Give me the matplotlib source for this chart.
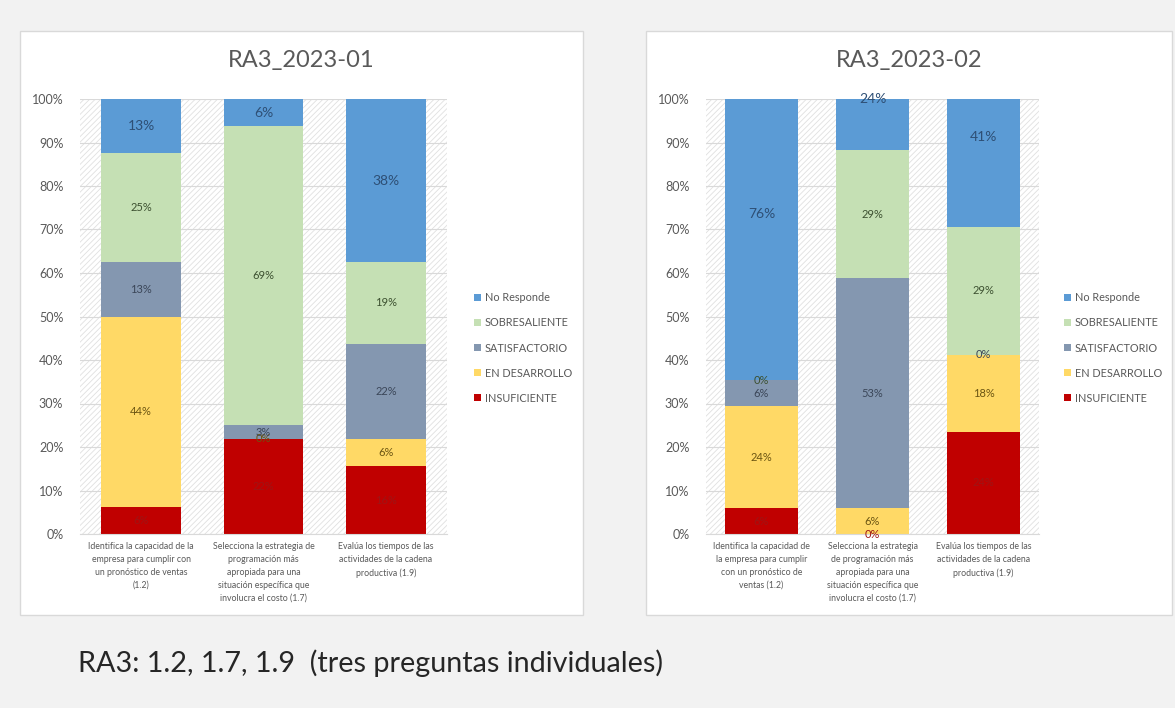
import matplotlib
matplotlib.use("Agg")
import matplotlib.pyplot as plt
from matplotlib.patches import Rectangle, Patch
import numpy as np

plt.rcParams['font.family'] = ['Lato', 'DejaVu Sans']
plt.rcParams['hatch.linewidth'] = 0.6

series = ["INSUFICIENTE", "EN DESARROLLO", "SATISFACTORIO", "SOBRESALIENTE", "No Responde"]
colors = ["#c00000", "#ffd966", "#8497b0", "#c5e0b4", "#5b9bd5"]
label_colors = ["#9e1515", "#6b5512", "#3b4658", "#3c5030", "#2e4f75"]
label_sizes = [8, 8, 8, 8, 10]

titles = ["RA3_2023-01", "RA3_2023-02"]

cats_1 = ["Identifica la capacidad de la\nempresa para cumplir con\nun pronóstico de ventas\n(1.2)",
          "Selecciona la estrategia de\nprogramación más\napropiada para una\nsituación específica que\ninvolucra el costo (1.7)",
          "Evalúa los tiempos de las\nactividades de la cadena\nproductiva (1.9)"]
cats_2 = ["Identifica la capacidad de\nla empresa para cumplir\ncon un pronóstico de\nventas (1.2)",
          "Selecciona la estrategia\nde programación más\napropiada para una\nsituación específica que\ninvolucra el costo (1.7)",
          "Evalúa los tiempos de las\nactividades de la cadena\nproductiva (1.9)"]

# percentages per series (order: INSUF, EN DES, SATISF, SOBRE, NR)
insuf_1 = [6.25, 21.875, 15.625]
desarrollo_1 = [43.75, 0.0, 6.25]
satisf_1 = [12.5, 3.125, 21.875]
sobre_1 = [25.0, 68.75, 18.75]
noresp_1 = [12.5, 6.25, 37.5]

insuf_2 = [5.88, 0.0, 23.53]
desarrollo_2 = [23.53, 5.88, 17.65]
satisf_2 = [5.88, 52.94, 0.0]
sobre_2 = [0.0, 29.41, 29.41]
noresp_2 = [76.47, 23.53, 41.18]

data_1 = [insuf_1, desarrollo_1, satisf_1, sobre_1, noresp_1]
data_2 = [insuf_2, desarrollo_2, satisf_2, sobre_2, noresp_2]

W, H = 1175, 708
fig = plt.figure(figsize=(W / 100, H / 100), dpi=100)
fig.patch.set_facecolor("#f2f2f2")

def fx(px):
    return px / W

def fy(py):
    return 1 - py / H

# chart boxes
for x0, x1 in [(20, 583), (646, 1172)]:
    fig.patches.append(Rectangle((fx(x0), fy(615)), fx(x1) - fx(x0), fy(31) - fy(615),
                                 transform=fig.transFigure, facecolor="white",
                                 edgecolor="#d9d9d9", linewidth=1.0, zorder=-10))

def draw(ax, data, cats, title, title_x, leg_x):
    x = np.arange(len(cats))
    bottom = np.zeros(len(cats))
    ax.set_facecolor("none")
    ax.add_patch(Rectangle((0, 0), 1, 1, transform=ax.transAxes, facecolor="white",
                           edgecolor="#e0e0e0", hatch="//////", linewidth=0, zorder=0))
    handles = []
    for vals, c, lc, ls, name in zip(data, colors, label_colors, label_sizes, series):
        v = np.array(vals) / 100.0
        ax.bar(x, v, bottom=bottom, width=0.65, color=c, zorder=2, label=name)
        for xi, b, h in zip(x, bottom, v):
            ax.text(xi, b + h / 2, f"{int(h * 100 + 0.5)}%", ha="center", va="center",
                    fontsize=ls, color=lc, zorder=3)
        bottom = bottom + v
        handles.append(Patch(facecolor=c, label=name))
    ax.set_ylim(0, 1)
    ax.set_xlim(-0.5, len(cats) - 0.5)
    ticks = np.arange(0, 1.01, 0.1)
    ax.set_yticks(ticks)
    ax.set_yticklabels([f"{int(round(t * 100))}%" for t in ticks], fontsize=9, color="#595959")
    ax.set_xticks(x)
    ax.set_xticklabels(cats, fontsize=6.3, color="#595959", linespacing=1.55)
    ax.tick_params(axis="both", length=0)
    ax.tick_params(axis="y", pad=12)
    ax.tick_params(axis="x", pad=6)
    ax.yaxis.grid(True, color="#d9d9d9", linewidth=0.8, zorder=1)
    ax.set_axisbelow(True)
    for s in ax.spines.values():
        s.set_visible(False)
    ax.spines["bottom"].set_visible(True)
    ax.spines["bottom"].set_color("#d9d9d9")
    fig.text(fx(title_x), fy(60), title, ha="center", va="center", fontsize=17, color="#595959")
    fig.legend(handles=handles[::-1], loc="center left",
               bbox_to_anchor=(fx(leg_x), fy(348)), frameon=False, fontsize=7.8,
               labelcolor="#595959", handlelength=0.65, handleheight=0.65,
               handletextpad=0.3, labelspacing=1.3, borderpad=0)

ax1 = fig.add_axes([fx(80), fy(534), fx(447) - fx(80), fy(99) - fy(534)])
draw(ax1, data_1, cats_1, titles[0], 301, 469)
ax2 = fig.add_axes([fx(706), fy(534), fx(1039) - fx(706), fy(99) - fy(534)])
draw(ax2, data_2, cats_2, titles[1], 909, 1059)

fig.text(fx(78), fy(663), "RA3: 1.2, 1.7, 1.9  (tres preguntas individuales)",
         ha="left", va="center", fontsize=20.7, color="#262626")

fig.savefig("out.png", dpi=100, facecolor=fig.get_facecolor())
